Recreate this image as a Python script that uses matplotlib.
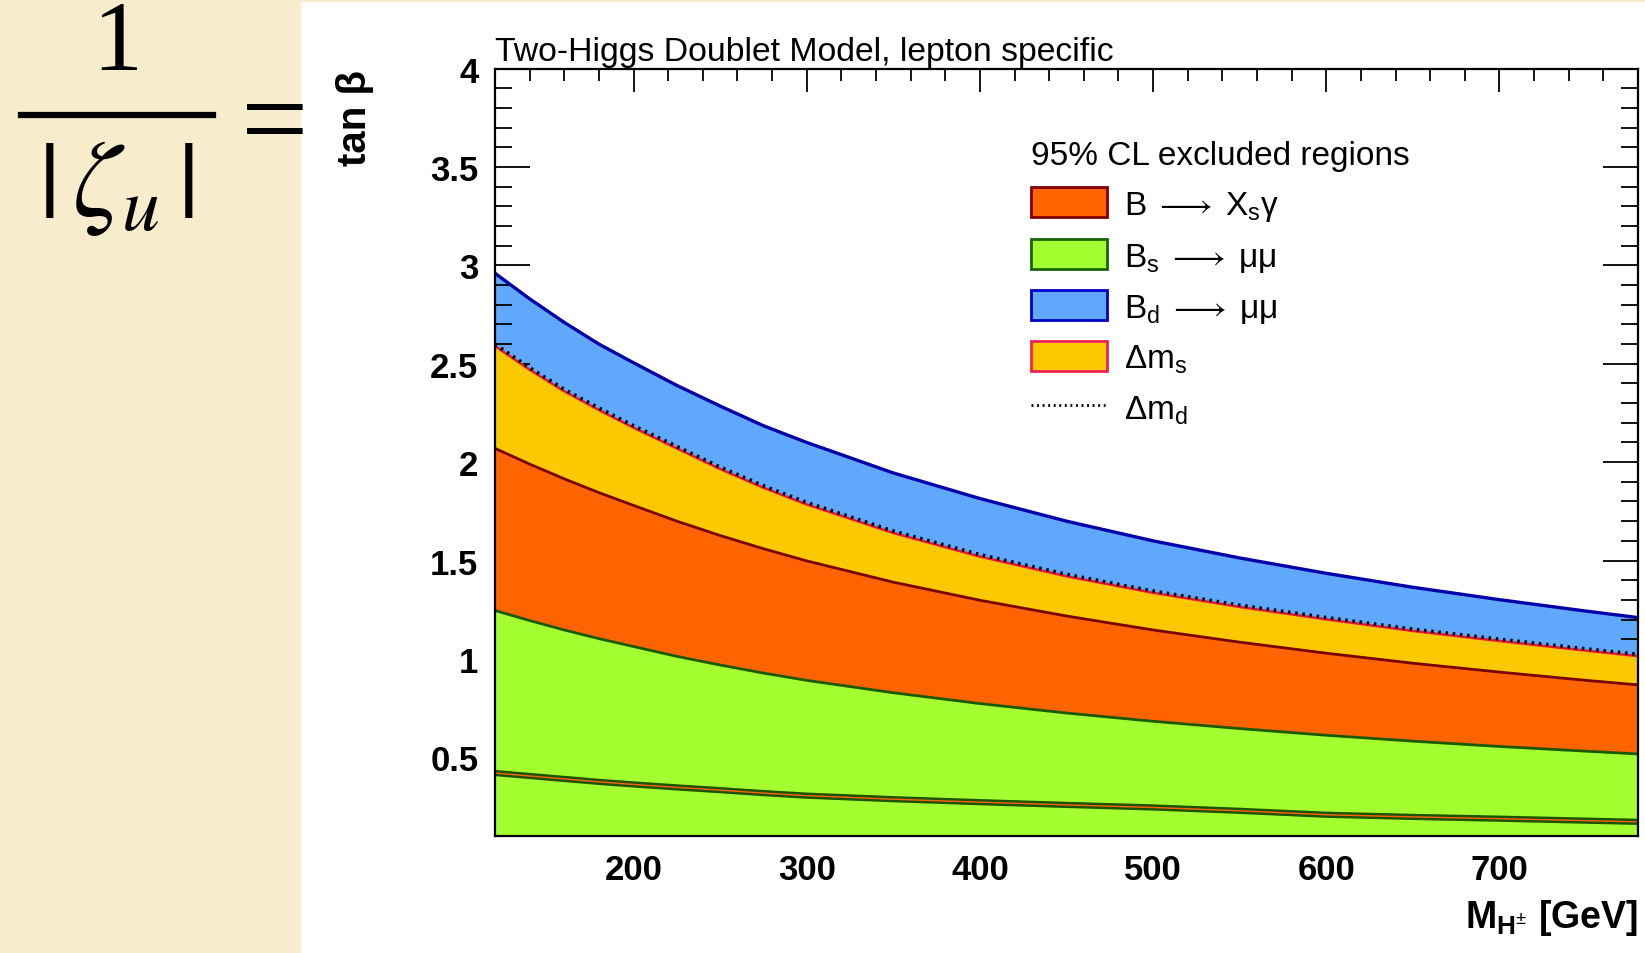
import numpy as np
import matplotlib
matplotlib.use("Agg")
import matplotlib.pyplot as plt
from matplotlib.patches import Patch, Rectangle
from matplotlib.lines import Line2D
from matplotlib.ticker import MultipleLocator, FuncFormatter

plt.rcParams['font.family'] = ['Liberation Sans', 'DejaVu Sans']
plt.rcParams['mathtext.fontset'] = 'custom'
plt.rcParams['mathtext.rm'] = 'Liberation Sans'
plt.rcParams['mathtext.it'] = 'Liberation Sans:italic'
plt.rcParams['mathtext.bf'] = 'Liberation Sans:bold'
plt.rcParams['mathtext.fallback'] = 'stix'

# charged Higgs mass [GeV]
m_h = [120, 140, 160, 180, 200, 225, 250, 275, 300, 350, 400, 450, 500, 550, 600, 650, 700, 750, 780]
# upper edges of the 95% CL excluded regions (tan beta)
bd_mumu = [2.96, 2.83, 2.71, 2.60, 2.505, 2.39, 2.285, 2.185, 2.10, 1.945, 1.815, 1.70, 1.60, 1.513,
           1.435, 1.364, 1.301, 1.243, 1.21]
dm_s = [2.59, 2.47, 2.36, 2.265, 2.175, 2.07, 1.965, 1.87, 1.785, 1.64, 1.52, 1.42, 1.336, 1.264,
        1.201, 1.142, 1.091, 1.042, 1.014]
dm_d = [2.60, 2.48, 2.37, 2.275, 2.185, 2.08, 1.975, 1.88, 1.795, 1.65, 1.53, 1.43, 1.345, 1.273,
        1.21, 1.151, 1.10, 1.051, 1.023]
b_xsgamma = [2.07, 1.99, 1.915, 1.845, 1.78, 1.70, 1.627, 1.56, 1.498, 1.39, 1.298, 1.218, 1.147,
             1.085, 1.029, 0.978, 0.933, 0.891, 0.868]
bs_mumu = [1.246, 1.195, 1.147, 1.103, 1.063, 1.013, 0.969, 0.928, 0.891, 0.828, 0.773, 0.725,
           0.683, 0.646, 0.612, 0.582, 0.555, 0.531, 0.517]
low_band = [0.42, 0.405, 0.39, 0.375, 0.362, 0.347, 0.333, 0.318, 0.305, 0.287, 0.272, 0.258,
            0.245, 0.228, 0.208, 0.197, 0.188, 0.178, 0.172]

YMIN, YMAX = 0.1, 4.0
XMIN, XMAX = 120, 780

C_ORANGE = '#ff6400'
C_GREEN = '#a4ff30'
C_BLUE = '#5fa8fb'
C_YELLOW = '#fcc800'

fig = plt.figure(figsize=(16.45, 9.54), dpi=100)
fig.patch.set_facecolor('#f7edcd')
fig.add_artist(Rectangle((301 / 1645, 0), 1 - 301 / 1645, 1 - 3 / 954,
                         transform=fig.transFigure, facecolor='white', edgecolor='none', zorder=0))

# left-hand formula
fig.text(117 / 1645, 1 - 46 / 954, '1', fontsize=72, family='Liberation Serif', ha='center', va='center')
fig.add_artist(Line2D([21 / 1645, 213 / 1645], [1 - 116 / 954, 1 - 116 / 954],
                      transform=fig.transFigure, color='black', lw=4.5))
fig.text(116 / 1645, 1 - 188 / 954, r'$|\,\zeta_{u}\,|$', fontsize=78, math_fontfamily='stix',
         ha='center', va='center')
fig.text(275 / 1645, 1 - 130 / 954, '=', fontsize=86, family='Liberation Serif', ha='center', va='center')

ax = fig.add_axes([495 / 1645, 1 - 837 / 954, (1638 - 495) / 1645, (837 - 69.6) / 954])
ax.set_facecolor('white')

ax.fill_between(m_h, YMIN, bd_mumu, color=C_BLUE, lw=0, zorder=1)
ax.fill_between(m_h, YMIN, dm_s, color=C_YELLOW, lw=0, zorder=2)
ax.fill_between(m_h, YMIN, b_xsgamma, color=C_ORANGE, lw=0, zorder=3)
ax.fill_between(m_h, YMIN, bs_mumu, color=C_GREEN, lw=0, zorder=4)

ax.plot(m_h, bd_mumu, color='#0000aa', lw=2.4, zorder=5)
ax.plot(m_h, dm_s, color='#f0143c', lw=1.8, zorder=5)
ax.plot(m_h, dm_d, color='black', lw=2.6, ls=(0, (0.7, 1.3)), zorder=6)
ax.plot(m_h, b_xsgamma, color='#7a0000', lw=2.0, zorder=5)
ax.plot(m_h, bs_mumu, color='#1c5a00', lw=2.0, zorder=5)
ax.plot(m_h, low_band, color='#1c5200', lw=4.5, zorder=5)
ax.plot(m_h, low_band, color=C_ORANGE, lw=1.0, zorder=6)

ax.set_xlim(XMIN, XMAX)
ax.set_ylim(YMIN, YMAX)
ax.xaxis.set_major_locator(MultipleLocator(100))
ax.xaxis.set_minor_locator(MultipleLocator(20))
ax.yaxis.set_major_locator(MultipleLocator(0.5))
ax.yaxis.set_minor_locator(MultipleLocator(0.1))
ax.yaxis.set_major_formatter(FuncFormatter(lambda v, p: '%g' % v))
ax.tick_params(axis='both', which='both', direction='in', top=True, right=True, width=1.3,
               colors='black', zorder=10)
ax.tick_params(axis='x', which='major', length=16.5, labelsize=25, pad=12)
ax.tick_params(axis='x', which='minor', length=8.5)
ax.tick_params(axis='y', which='major', length=25, labelsize=25, pad=12)
ax.tick_params(axis='y', which='minor', length=12.5)
for lab in ax.get_xticklabels() + ax.get_yticklabels():
    lab.set_fontweight('bold')
for sp in ax.spines.values():
    sp.set_linewidth(1.6)
    sp.set_zorder(10)

ax.text(0, 1.0117, 'Two-Higgs Doublet Model, lepton specific', transform=ax.transAxes,
        fontsize=24.3, ha='left', va='baseline')
ax.text(-0.1225, 1.0, 'tan β', transform=ax.transAxes, fontsize=29, fontweight='bold',
        rotation=90, ha='center', va='top')
ax.text(1.0, -0.106, r'M$_{\mathbf{H}^{\pm}}$ [GeV]', transform=ax.transAxes, fontsize=27,
        fontweight='bold', ha='right', va='center')

handles = [
    Patch(facecolor=C_ORANGE, edgecolor='#800000', lw=2),
    Patch(facecolor=C_GREEN, edgecolor='#1a6400', lw=2),
    Patch(facecolor=C_BLUE, edgecolor='#0000c8', lw=2),
    Patch(facecolor=C_YELLOW, edgecolor='#ee2255', lw=2),
    Line2D([], [], color='black', lw=2, ls=(0, (0.7, 1.3))),
]
labels = [
    r'B$\;\longrightarrow\;$X$_{\rm s}$γ',
    r'B$_{\rm s}\;\longrightarrow\;$μμ',
    r'B$_{\rm d}\;\longrightarrow\;$μμ',
    r'Δm$_{\rm s}$',
    r'Δm$_{\rm d}$',
]
leg = ax.legend(handles, labels, title='95% CL excluded regions', loc='upper left',
                bbox_to_anchor=(0.454, 0.929), frameon=False, fontsize=24, title_fontsize=24,
                handlelength=2.3, handleheight=1.0, handletextpad=0.5, labelspacing=0.5,
                borderpad=0, alignment='left')
leg.set_zorder(20)

fig.savefig('out.png', dpi=100)
